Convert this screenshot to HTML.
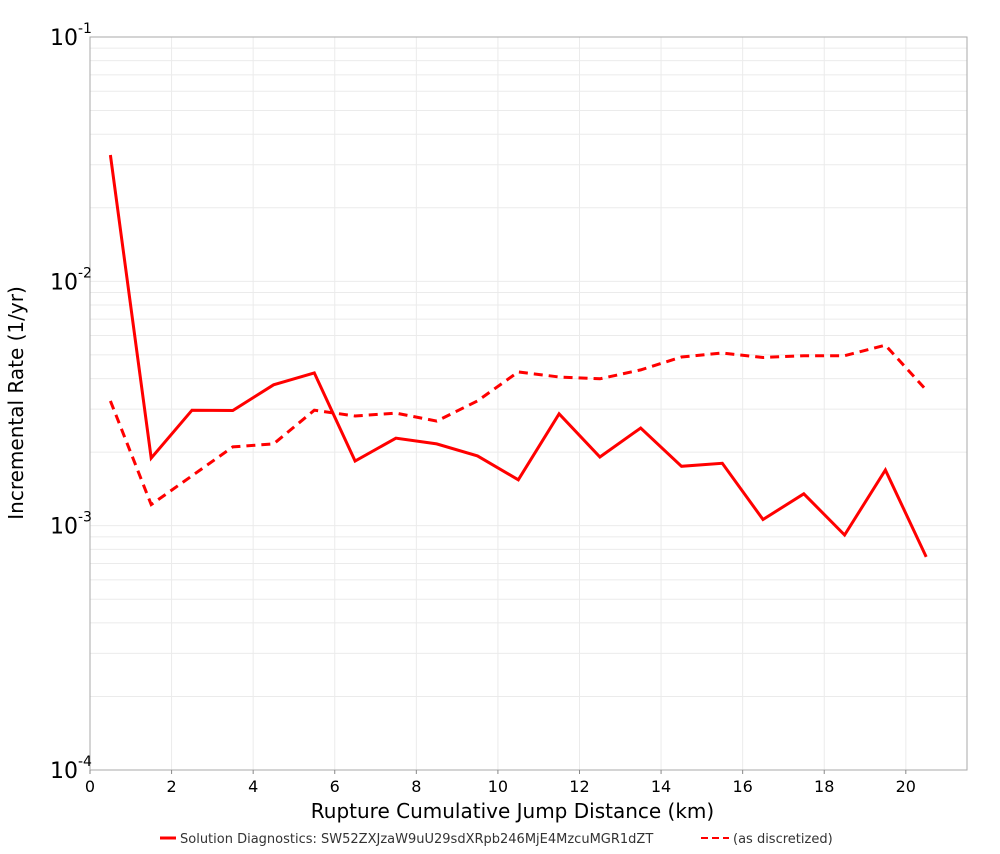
<!DOCTYPE html>
<html><head><meta charset="utf-8"><style>
body{margin:0;background:#fff;font-family:"DejaVu Sans","Liberation Sans",sans-serif;}
</style></head><body>
<svg id="chart" width="1000" height="850"></svg>
<script>
const xs=[0.5,1.5,2.5,3.5,4.5,5.5,6.5,7.5,8.5,9.5,10.5,11.5,12.5,13.5,14.5,15.5,16.5,17.5,18.5,19.5,20.5];
const solidVals=[0.0329,0.00189,0.00297,0.00296,0.00377,0.00422,0.00184,0.00228,0.00216,0.00193,0.00154,0.00287,0.00191,0.00251,0.00175,0.00180,0.00106,0.00135,0.000916,0.00169,0.000745];
const dashedVals=[0.00324,0.00122,0.00160,0.00210,0.00216,0.00297,0.00281,0.00289,0.00268,0.00324,0.00426,0.00406,0.00399,0.00434,0.00490,0.00509,0.00488,0.00496,0.00496,0.00548,0.00359];
const xTicks=[0,2,4,6,8,10,12,14,16,18,20];
const yExps=[-4,-3,-2,-1];
const L=90,R=967,T=37,B=770,XMAX=21.5;
const sx=v=>L+v/XMAX*(R-L);
const sy=v=>B-(Math.log10(v)+4)/3*(B-T);
const svg=document.getElementById('chart');
const NS='http://www.w3.org/2000/svg';
function mk(t,a,p){const e=document.createElementNS(NS,t);for(const k in a)e.setAttribute(k,a[k]);(p||svg).appendChild(e);return e;}
const grid=mk('g',{});


for(let e=-4;e<-1;e++)for(let m=1;m<=9;m++){const y=sy(m*Math.pow(10,e));mk('line',{x1:L,x2:R,y1:y,y2:y,stroke:'#ebebeb','stroke-width':1},grid);}
xTicks.forEach(t=>{const x=sx(t);mk('line',{x1:x,x2:x,y1:T,y2:B,stroke:'#ebebeb','stroke-width':1},grid);});
const frame=mk('rect',{x:L,y:T,width:R-L,height:B-T,fill:'none',stroke:'#aaa','stroke-width':1});


xTicks.forEach(t=>{const x=sx(t);mk('line',{x1:x,x2:x,y1:B,y2:B+4,stroke:'#888'});
const tx=mk('text',{x:x,y:B+22,'text-anchor':'middle','font-size':16,fill:'#000'});tx.textContent=t;

});
yExps.forEach(e=>{const y=sy(Math.pow(10,e));
const tx=mk('text',{x:50,y:y+8,'font-size':22,fill:'#000'});tx.textContent='10';


const sp=mk('tspan',{dy:-12,'font-size':14},tx);sp.textContent=String(e);});
function line(vals,dash,name){const d=xs.map((x,i)=>(i?'L':'M')+sx(x).toFixed(1)+','+sy(vals[i]).toFixed(1)).join('');
const p=mk('path',{d:d,fill:'none',stroke:'#ff0000','stroke-width':3,'stroke-dasharray':dash||'none'});

}
line(dashedVals,'9,6','series-as-discretized');
line(solidVals,null,'series-solution');
const xt=mk('text',{x:(L+R)/2-16,y:818,'text-anchor':'middle','font-size':20});xt.textContent='Rupture Cumulative Jump Distance (km)';


const yt=mk('text',{x:0,y:0,'text-anchor':'middle','font-size':20,transform:'translate(23,403) rotate(-90)'});yt.textContent='Incremental Rate (1/yr)';


const lg=mk('g',{});


mk('line',{x1:160,x2:176,y1:838,y2:838,stroke:'#f00','stroke-width':3},lg);
const l1=mk('text',{x:180,y:843,'font-size':13,fill:'#333'},lg);l1.textContent='Solution Diagnostics: SW52ZXJzaW9uU29sdXRpb246MjE4MzcuMGR1dZT';


mk('line',{x1:701,x2:729,y1:838,y2:838,stroke:'#f00','stroke-width':2,'stroke-dasharray':'7,4'},lg);
const l2=mk('text',{x:733,y:843,'font-size':13,fill:'#333'},lg);l2.textContent='(as discretized)';


</script>
</body></html>
